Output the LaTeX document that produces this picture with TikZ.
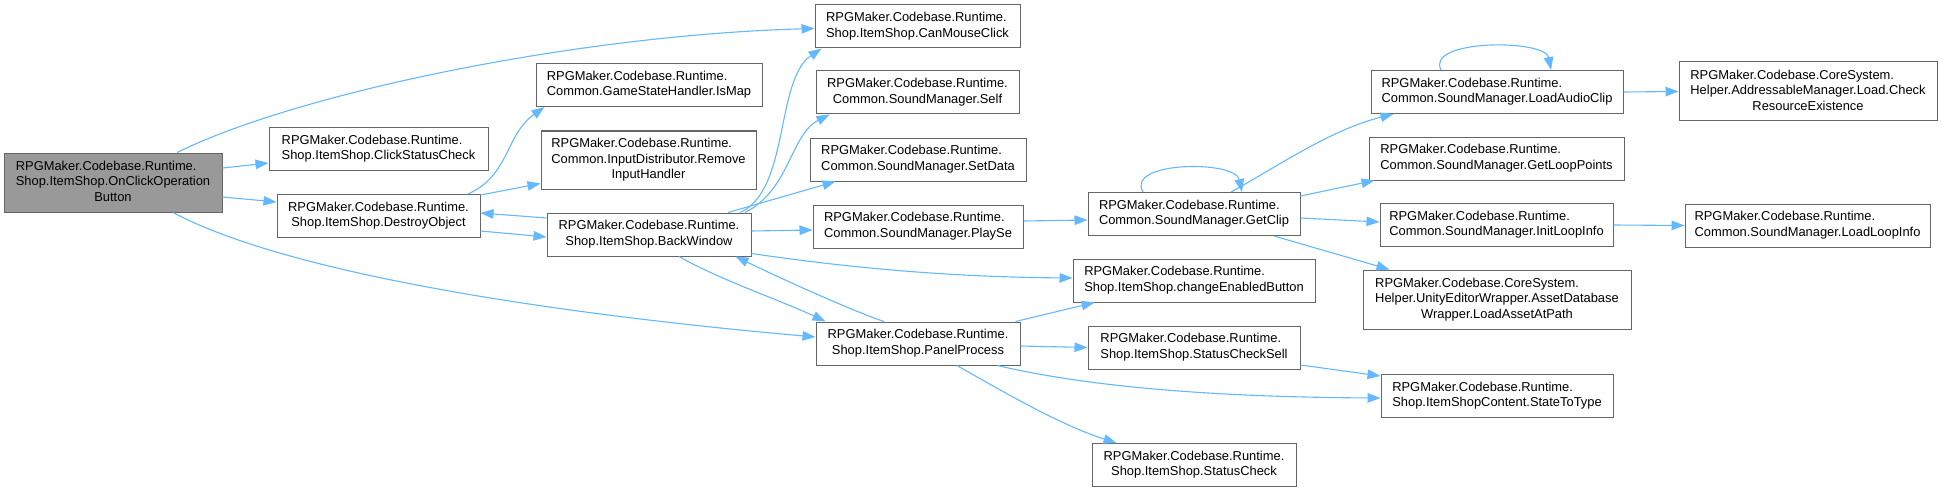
\documentclass[tikz,border=0pt]{standalone}
\usepackage{fontspec}
\setmainfont{Liberation Sans}
\usetikzlibrary{arrows.meta}
\definecolor{edgeblue}{HTML}{63B8FF}
\definecolor{boxline}{HTML}{666666}
\definecolor{rootfill}{HTML}{999999}
% label lines: left aligned, last line centred
\newcommand{\twol}[2]{\begin{tabular}{@{}l@{}}#1\\\multicolumn{1}{@{}c@{}}{#2}\end{tabular}}
\newcommand{\threel}[3]{\begin{tabular}{@{}l@{}}#1\\#2\\\multicolumn{1}{@{}c@{}}{#3}\end{tabular}}

\begin{document}
\begin{tikzpicture}[x=1pt,y=-1pt,
  fn/.style={draw=boxline,fill=white,line width=1pt,inner sep=0pt,minimum height=43pt,font=\fontsize{12.9}{15.5}\selectfont},
  tall/.style={minimum height=59pt},
  calledge/.style={draw=edgeblue,line width=1.1pt,-{Triangle[length=13pt,width=9.5pt]}}]
\useasboundingbox (0,0) rectangle (1942,492);

% first columns
\node[fn,tall,fill=rootfill,minimum width=218pt] (onclick) at (113,182.5) {\threel{RPGMaker.Codebase.Runtime.}{Shop.ItemShop.OnClickOperation}{Button}};
\node[fn,minimum width=219pt] (clickstatus) at (378.5,149) {\twol{RPGMaker.Codebase.Runtime.}{Shop.ItemShop.ClickStatusCheck}};
\node[fn,minimum width=203pt] (destroy) at (378.5,216) {\twol{RPGMaker.Codebase.Runtime.}{Shop.ItemShop.DestroyObject}};
\node[fn,minimum width=226pt] (ismap) at (649,85) {\twol{RPGMaker.Codebase.Runtime.}{Common.GameStateHandler.IsMap}};
\node[fn,tall,minimum width=215pt,minimum height=58pt] (removeinput) at (648.5,160) {\threel{RPGMaker.Codebase.Runtime.}{Common.InputDistributor.Remove}{InputHandler}};
\node[fn,minimum width=204pt] (back) at (649,234.5) {\twol{RPGMaker.Codebase.Runtime.}{Shop.ItemShop.BackWindow}};

% middle column
\node[fn,minimum width=205pt] (canmouse) at (917.5,26.5) {\twol{RPGMaker.Codebase.Runtime.}{Shop.ItemShop.CanMouseClick}};
\node[fn,minimum width=203pt] (self) at (917.5,92.5) {\twol{RPGMaker.Codebase.Runtime.}{Common.SoundManager.Self}};
\node[fn,minimum width=216pt] (setdata) at (918,159.5) {\twol{RPGMaker.Codebase.Runtime.}{Common.SoundManager.SetData}};
\node[fn,minimum width=210pt] (playse) at (918,226.5) {\twol{RPGMaker.Codebase.Runtime.}{Common.SoundManager.PlaySe}};
\node[fn,minimum width=204pt] (panel) at (918,343.5) {\twol{RPGMaker.Codebase.Runtime.}{Shop.ItemShop.PanelProcess}};

% sound manager and shop helpers
\node[fn,minimum width=212pt] (getclip) at (1194,214) {\twol{RPGMaker.Codebase.Runtime.}{Common.SoundManager.GetClip}};
\node[fn,minimum width=242pt] (changeen) at (1194,280.5) {\twol{RPGMaker.Codebase.Runtime.}{Shop.ItemShop.changeEnabledButton}};
\node[fn,minimum width=212pt] (sellcheck) at (1194,347.5) {\twol{RPGMaker.Codebase.Runtime.}{Shop.ItemShop.StatusCheckSell}};
\node[fn,minimum width=204pt] (statuscheck) at (1194,465) {\twol{RPGMaker.Codebase.Runtime.}{Shop.ItemShop.StatusCheck}};

\node[fn,minimum width=252pt] (loadaudio) at (1497,92) {\twol{RPGMaker.Codebase.Runtime.}{Common.SoundManager.LoadAudioClip}};
\node[fn,minimum width=255pt] (getloop) at (1496.5,158.5) {\twol{RPGMaker.Codebase.Runtime.}{Common.SoundManager.GetLoopPoints}};
\node[fn,minimum width=233pt] (initloop) at (1496.5,225) {\twol{RPGMaker.Codebase.Runtime.}{Common.SoundManager.InitLoopInfo}};
\node[fn,tall,minimum width=268pt] (loadasset) at (1497,299.5) {\threel{RPGMaker.Codebase.CoreSystem.}{Helper.UnityEditorWrapper.AssetDatabase}{Wrapper.LoadAssetAtPath}};
\node[fn,minimum width=232pt] (statetype) at (1497,396) {\twol{RPGMaker.Codebase.Runtime.}{Shop.ItemShopContent.StateToType}};

% last column
\node[fn,tall,minimum width=258pt] (checkres) at (1808,91.5) {\threel{RPGMaker.Codebase.CoreSystem.}{Helper.AddressableManager.Load.Check}{ResourceExistence}};
\node[fn,minimum width=245pt] (loadloopinfo) at (1807.5,225.5) {\twol{RPGMaker.Codebase.Runtime.}{Common.SoundManager.LoadLoopInfo}};

% calls from OnClickOperationButton
\draw[calledge] ([xshift=64pt]onclick.north) .. controls (300,92) and (580,35) .. ([yshift=-2pt]canmouse.west);
\draw[calledge] ([yshift=14.5pt]onclick.east) -- ([yshift=-14pt]clickstatus.west);
\draw[calledge] ([yshift=-14.5pt]onclick.east) -- ([yshift=14pt]destroy.west);
\draw[calledge] ([xshift=60pt]onclick.south) .. controls (300,280) and (600,318) .. ([yshift=6.5pt]panel.west);

% calls from DestroyObject
\draw[calledge] ([xshift=89.5pt]destroy.north) .. controls (510,175) and (505,135) .. ([xshift=9pt]ismap.south west);
\draw[calledge] ([yshift=-1pt]destroy.north east) -- ([yshift=6pt]removeinput.south west);
\draw[calledge] ([yshift=-15pt]destroy.east) -- ([yshift=-2.5pt]back.west);

% calls from BackWindow
\draw[calledge] ([yshift=16.5pt]back.west) -- ([yshift=3pt]destroy.east);
\draw[calledge] ([xshift=91pt]back.north) .. controls (790,190) and (775,80) .. ([xshift=7pt]canmouse.south west);
\draw[calledge] ([xshift=96pt]back.north) .. controls (790,190) and (790,135) .. ([xshift=14pt]self.south west);
\draw[calledge] ([xshift=79pt]back.north) -- ([xshift=26pt]setdata.south west);
\draw[calledge] ([yshift=3.5pt]back.east) -- ([yshift=-3.5pt]playse.west);
\draw[calledge] ([yshift=3pt]back.south east) .. controls (850,268) and (950,277) .. ([yshift=2.5pt]changeen.west);
\draw[calledge] ([xshift=30pt]back.south) .. controls (720,280) and (780,300) .. ([xshift=10pt]panel.north west);

% calls from PanelProcess
\draw[calledge] ([xshift=-34pt]panel.north) .. controls (850,310) and (780,278) .. ([xshift=-16pt]back.south east);
\draw[calledge] ([xshift=-5pt]panel.north east) -- ([xshift=22pt]changeen.south west);
\draw[calledge] ([yshift=-2.5pt]panel.east) -- (sellcheck.west);
\draw[calledge] ([xshift=-23pt]panel.south east) .. controls (1080,385) and (1200,397) .. ([yshift=-2pt]statetype.west);
\draw[calledge] ([xshift=39pt]panel.south) .. controls (1000,390) and (1060,425) .. ([xshift=25pt]statuscheck.north west);
\draw[calledge] ([yshift=-17.5pt]sellcheck.east) -- ([yshift=-2pt]statetype.north west);

% sound manager calls
\draw[calledge] ([yshift=5.5pt]playse.east) -- ([yshift=-6pt]getclip.west);
\draw[calledge] ([xshift=-51pt]getclip.north) .. controls (1125,161) and (1235,160) .. ([xshift=48pt]getclip.north);
\draw[calledge] ([xshift=37pt]getclip.north) .. controls (1280,165) and (1330,130) .. ([xshift=23pt]loadaudio.south west);
\draw[calledge] ([xshift=-56pt]loadaudio.north) .. controls (1425,39) and (1545,39) .. ([xshift=54pt]loadaudio.north);
\draw[calledge] (loadaudio.east) -- (checkres.west);
\draw[calledge] ([yshift=18pt]getclip.east) -- ([xshift=6pt]getloop.south west);
\draw[calledge] ([yshift=-4pt]getclip.east) -- ([yshift=3pt]initloop.west);
\draw[calledge] ([xshift=80pt]getclip.south) -- ([xshift=27pt]loadasset.north west);
\draw[calledge] (initloop.east) -- (loadloopinfo.west);

\end{tikzpicture}
\end{document}
